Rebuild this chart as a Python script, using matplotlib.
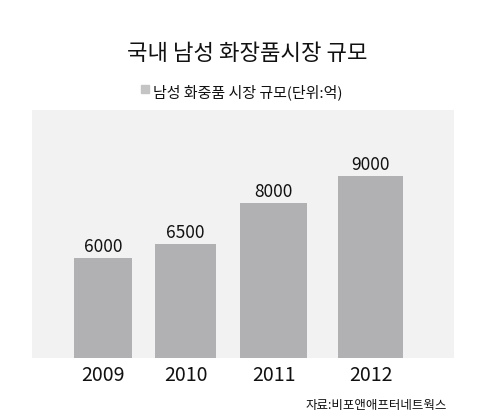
import matplotlib
matplotlib.use("Agg")
import matplotlib.pyplot as plt
from matplotlib.patches import Rectangle

plt.rcParams['font.family'] = ['Noto Sans CJK KR', 'DejaVu Sans']

# données
annees = ["2009", "2010", "2011", "2012"]
valeurs = [6000, 6500, 8000, 9000]
titre = "국내 남성 화장품시장 규모"
legende = "남성 화중품 시장 규모(단위:억)"
source = "자료:비포앤애프터네트웍스"

# mise en page (barres dessinées à la main dans l'original, espacement irrégulier)
x_pos = [0, 0.927, 1.916, 3.006]
largeurs = [0.65, 0.685, 0.753, 0.73]

fig = plt.figure(figsize=(4.8, 4.16), dpi=100)
ax = fig.add_axes([32 / 480, 1 - 358 / 416, 422 / 480, 248 / 416])
ax.set_facecolor("#f2f2f2")

ax.bar(x_pos, valeurs, width=largeurs, color="#b1b1b3", zorder=2)
for x, v in zip(x_pos, valeurs):
    ax.text(x, v + 80, str(v), ha="center", va="bottom", fontsize=12.5, color="#111111")

ax.set_xlim(-0.798, 3.944)
ax.set_ylim(2340, 11400)
ax.set_xticks(x_pos)
ax.set_xticklabels(annees, fontsize=14, color="#111111")
ax.tick_params(axis="x", length=0, pad=5)
ax.set_yticks([])
for s in ax.spines.values():
    s.set_visible(False)

fig.text(247.5 / 480, 1 - 54 / 416, titre, ha="center", va="center", fontsize=16, color="#111111")
fig.patches.append(Rectangle((141 / 480, 1 - 93 / 416), 8 / 480, 8 / 416,
                             transform=fig.transFigure, color="#c4c4c4"))
fig.text(153 / 480, 1 - 92.5 / 416, legende, ha="left", va="center", fontsize=10.8, color="#111111")
fig.text(447 / 480, 1 - 406 / 416, source, ha="right", va="center", fontsize=9, color="#111111")

fig.savefig("out.png", dpi=100, facecolor="white")
